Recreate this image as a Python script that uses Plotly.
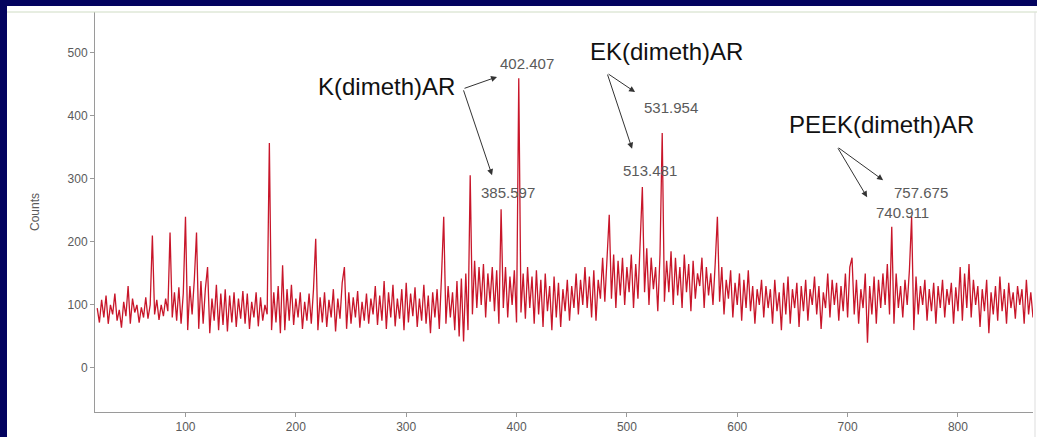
import plotly.graph_objects as go

# m/z grid (step 2) and counts
mz = list(range(20, 870, 2))
counts = [
    95, 72, 108, 80, 115, 70, 100, 85, 118, 75, 92, 64, 105, 82, 130, 70, 110, 88, 100, 72, 96, 80, 112, 78, 100,
    210, 85, 108, 76, 100, 82, 110, 90, 215, 80, 120, 75, 128, 70, 118, 240, 60, 130, 85, 140, 215, 62, 138, 70, 125,
    160, 55, 110, 75, 132, 60, 118, 68, 125, 58, 115, 72, 120, 65, 110, 78, 122, 70, 118, 62, 105, 80, 120, 66, 112,
    75, 100, 85, 357, 60, 120, 72, 130, 55, 163, 60, 125, 75, 132, 68, 110, 80, 120, 62, 105, 75, 118, 70, 125, 205,
    60, 112, 72, 120, 65, 108, 80, 125, 58, 110, 78, 135, 160, 62, 120, 70, 112, 80, 122, 64, 105, 75, 118, 70, 110,
    85, 130, 68, 115, 75, 138, 62, 120, 80, 132, 66, 110, 78, 125, 60, 135, 72, 118, 82, 128, 65, 110, 75, 132, 70,
    115, 55, 120, 80, 125, 62, 145, 240, 70, 130, 80, 120, 60, 138, 50, 142, 42, 150, 60, 306, 85, 170, 95, 160, 100,
    165, 80, 150, 105, 160, 90, 155, 70, 252, 95, 160, 80, 145, 100, 155, 72, 460, 88, 150, 78, 160, 95, 145, 70, 155,
    85, 140, 65, 150, 90, 130, 60, 145, 80, 135, 65, 125, 90, 140, 75, 130, 95, 150, 85, 140, 100, 160, 95, 145, 80,
    155, 75, 140, 110, 175, 105, 185, 243, 110, 180, 95, 170, 115, 175, 100, 160, 120, 180, 95, 165, 110, 195, 287, 120, 190,
    100, 175, 125, 160, 90, 180, 373, 105, 170, 120, 185, 100, 175, 115, 160, 95, 180, 120, 165, 90, 170, 110, 150, 130, 175,
    95, 160, 115, 150, 100, 165, 240, 105, 160, 85, 140, 110, 155, 80, 135, 100, 150, 75, 140, 95, 155, 90, 130, 70, 125,
    100, 140, 80, 130, 95, 125, 70, 140, 90, 120, 60, 135, 85, 145, 70, 125, 95, 135, 65, 130, 90, 140, 75, 125, 100,
    145, 85, 130, 62, 120, 95, 150, 80, 140, 100, 135, 75, 130, 90, 150, 80, 160, 175, 85, 140, 70, 125, 95, 150, 40,
    130, 85, 145, 70, 140, 95, 150, 100, 165, 85, 224, 70, 150, 95, 130, 80, 140, 100, 155, 240, 60, 145, 85, 130, 100,
    140, 75, 125, 90, 135, 70, 130, 95, 140, 80, 125, 100, 135, 70, 128, 90, 160, 75, 150, 95, 165, 80, 140, 100, 130,
    65, 125, 90, 140, 55, 120, 85, 130, 75, 145, 90, 125, 70, 135, 95, 120, 78, 130, 100, 125, 70, 140, 85, 120, 80,
]

group_labels = ["K(dimeth)AR", "EK(dimeth)AR", "PEEK(dimeth)AR"]
peak_labels = ["402.407", "385.597", "531.954", "513.481", "757.675", "740.911"]

W, H = 1037, 437
L, R, T, B = 95, 4, 12, 25
pw, ph = W - L - R, H - T - B


def px_x(p):
    return (p - L) / pw


def px_y(p):
    return (H - B - p) / ph


fig = go.Figure()
fig.add_trace(go.Scatter(
    x=mz, y=counts, mode="lines",
    line=dict(color="#c8162a", width=1.3),
    hoverinfo="skip", showlegend=False,
))

ann = []
# group labels
for txt, (x, y) in zip(group_labels, [(282.6, 446), (536, 502), (730.3, 387)]):
    ann.append(dict(x=x, y=y, xref="x", yref="y", text=txt, showarrow=False,
                    font=dict(family="Liberation Sans, Arial", size=24, color="#111111"),
                    xanchor="center", yanchor="middle"))
# peak labels
for txt, (x, y) in zip(peak_labels, [(409.5, 482.5), (392.3, 279), (540, 414),
                                     (521, 313), (766.5, 279), (749.4, 246)]):
    ann.append(dict(x=x, y=y, xref="x", yref="y", text=txt, showarrow=False,
                    font=dict(family="Liberation Sans, Arial", size=15, color="#5a5a5a"),
                    xanchor="center", yanchor="middle"))
# arrows (tail -> head)
arrows = [
    ((351.5, 443), (382.3, 462)),
    ((351.5, 443), (377.8, 306)),
    ((482, 468), (507.4, 438)),
    ((482, 468), (504.7, 348)),
    ((690.5, 351), (732.2, 298)),
    ((690.5, 351), (717.7, 271)),
]
for (tx, ty), (hx, hy) in arrows:
    ann.append(dict(x=hx, y=hy, ax=tx, ay=ty, xref="x", yref="y", axref="x", ayref="y",
                    text="", showarrow=True, arrowhead=2, arrowsize=1.2, arrowwidth=1,
                    arrowcolor="#333333", standoff=0, startstandoff=0))

fig.update_layout(
    width=W, height=H,
    margin=dict(l=L, r=R, t=T, b=B, pad=0),
    paper_bgcolor="white", plot_bgcolor="white",
    font=dict(family="Liberation Sans, Arial", size=12, color="#555555"),
    annotations=ann,
    showlegend=False,
    hovermode=False,
    xaxis=dict(range=[18, 868], tickvals=[100, 200, 300, 400, 500, 600, 700, 800],
               showgrid=False, zeroline=False, showline=True, linecolor="#9a9a9a", linewidth=1,
               ticks="outside", ticklen=4, tickcolor="#9a9a9a",
               tickfont=dict(size=12, color="#5a5a5a")),
    yaxis=dict(range=[-70, 565], tickvals=[0, 100, 200, 300, 400, 500],
               showgrid=False, zeroline=False, showline=True, linecolor="#9a9a9a", linewidth=1,
               ticks="outside", ticklen=4, tickcolor="#9a9a9a",
               tickfont=dict(size=12, color="#5a5a5a"),
               title=dict(text="Counts", standoff=25, font=dict(size=12, color="#5a5a5a"))),
    shapes=[
        # navy frame (left and top)
        dict(type="rect", xref="paper", yref="paper", x0=px_x(0), x1=px_x(7), y0=px_y(H), y1=px_y(0),
             fillcolor="#03035f", line=dict(width=0), layer="above"),
        dict(type="rect", xref="paper", yref="paper", x0=px_x(0), x1=px_x(W), y0=px_y(6), y1=px_y(0),
             fillcolor="#03035f", line=dict(width=0), layer="above"),
        # thin light line at top of plot
        dict(type="line", xref="paper", yref="paper", x0=px_x(7), x1=px_x(W), y0=px_y(12), y1=px_y(12),
             line=dict(color="#cfdcc4", width=1)),
        # right edge light line
        dict(type="line", xref="paper", yref="paper", x0=px_x(1035), x1=px_x(1035), y0=px_y(437), y1=px_y(12),
             line=dict(color="#dddddd", width=1)),
    ],
)

fig.write_html("out.html", config={"displayModeBar": False})
